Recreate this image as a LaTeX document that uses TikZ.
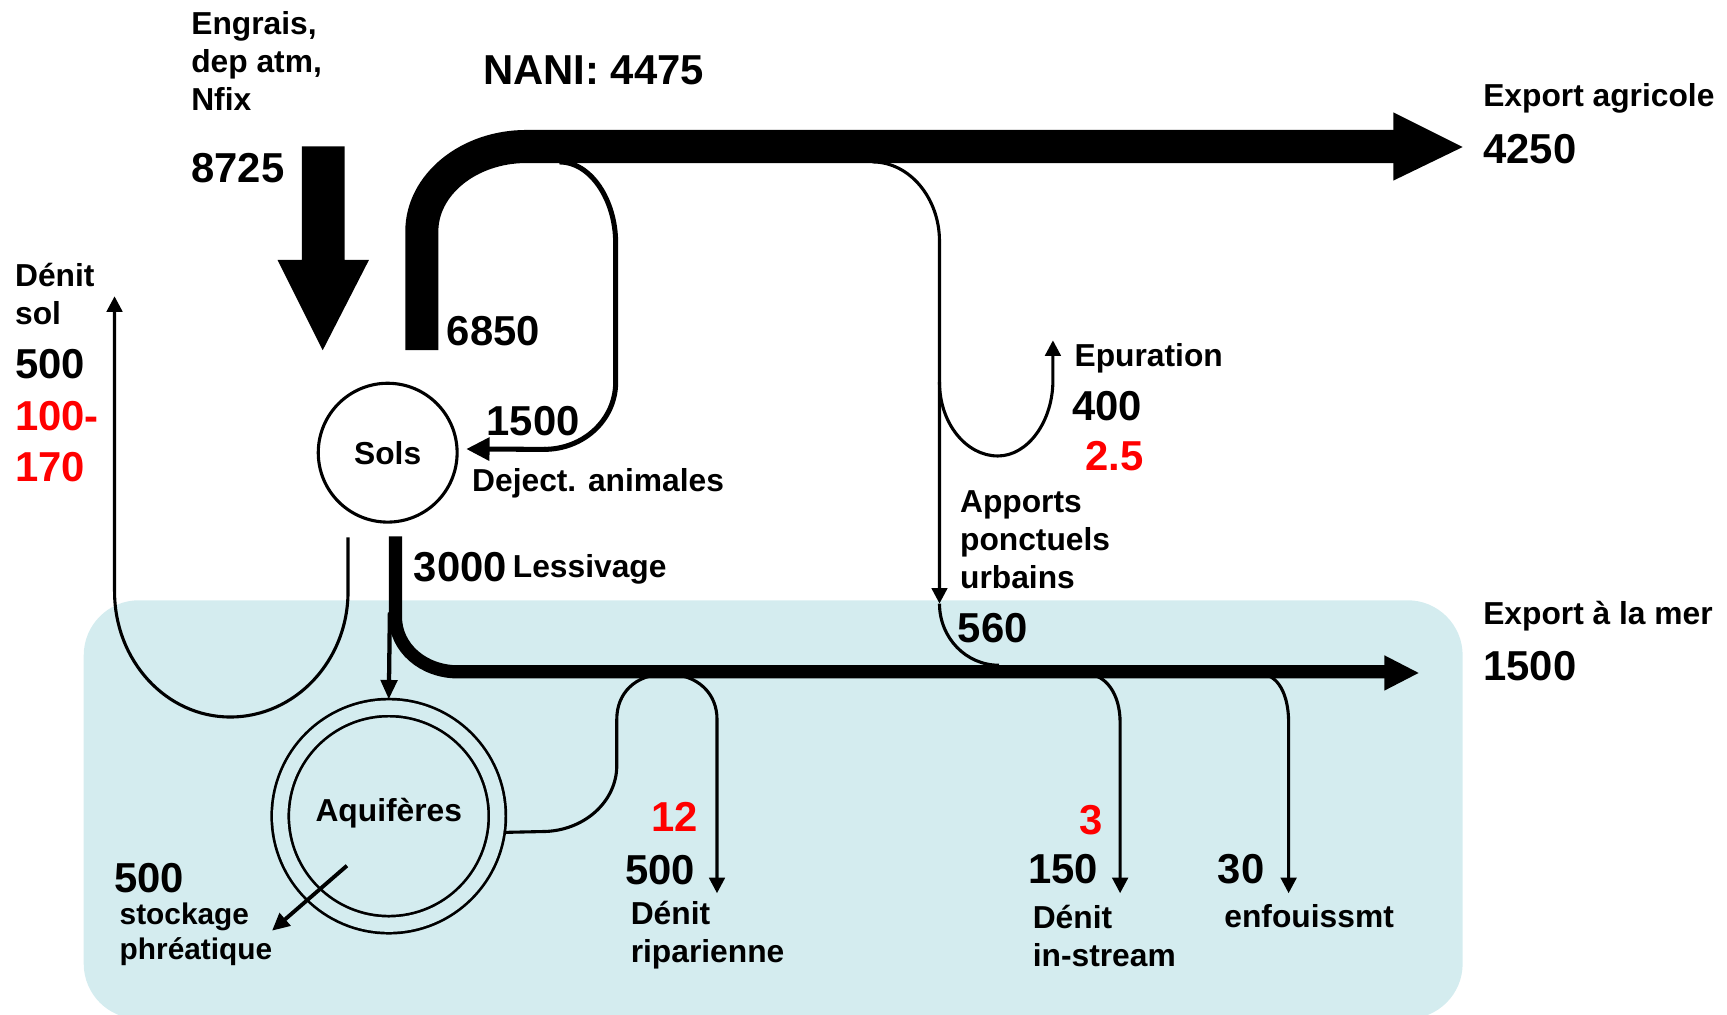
\documentclass[tikz,border=0pt]{standalone}
\usepackage{fontspec}
\setmainfont{Liberation Sans}
\usetikzlibrary{arrows.meta, positioning}
\definecolor{nappe}{RGB}{212,236,239}
\definecolor{flowred}{RGB}{255,0,0}
\newcommand{\lblfont}{\fontsize{8.2}{9.8}\selectfont\bfseries}
\newcommand{\numfont}{\fontsize{10.8}{13.2}\selectfont\bfseries}
\tikzset{
  lbl/.style={font=\lblfont, inner sep=0pt, anchor=west, align=left},
  num/.style={font=\numfont, inner sep=0pt, anchor=west, align=left},
  rednum/.style={num, text=flowred},
  pool/.style={draw, circle, line width=0.8pt, font=\lblfont, inner sep=0pt},
  fluxline/.style={line width=0.8pt, -{Triangle[length=4pt,width=4pt]}},
  fluxplain/.style={line width=0.8pt},
  bigflux/.style={line width=0.3cm, line cap=butt},
  midflux/.style={line width=0.12cm, line cap=butt},
}

\begin{document}
\begin{tikzpicture}[x=0.01cm, y=-0.01cm]
  \useasboundingbox (0,0) rectangle (1568,921);
  % zone souterraine / riviere
  \fill[nappe, rounded corners=0.5cm] (76,545) rectangle (1328,925);

  % reservoirs
  \node[pool, minimum size=1.26cm] (sols) at (352,411) {Sols};
  \node[pool, line width=0.7pt, double=nappe, double distance=0.13cm,
        outer sep=0.075cm, minimum size=1.97cm] (aquif) at (353,741) {};
  \node[font=\lblfont] (aquiflbl) at (353,738) {Aquifères};

  % points des flux
  \coordinate (agribot) at (383,318);
  \coordinate (agritop) at (383,210);
  \coordinate (agriend) at (1268,133);
  \coordinate (merend) at (1260,610);
  \coordinate (solsbot) at (359,487);
  \coordinate (denitsol) at (104,269);
  \coordinate (apportend) at (853,548);
  \coordinate (epurend) at (956,309);

  % apports d'engrais
  \fill (274,133) -- (313,133) -- (313,236) -- (335,236) -- (293,318)
        -- (252,236) -- (274,236) -- cycle;

  % deject. animales
  \draw[line width=1.3pt] (508,147) .. controls (536,147) and (559,181) .. (559,221)
        -- (559,347) .. controls (559,381) and (530,408) .. (494,408);
  \draw[line width=1.3pt, -{Triangle[length=6pt,width=5.8pt]}, shorten >=0.07cm]
        (496,408) -- (sols.3);

  % apports ponctuels urbains + epuration
  \draw[fluxline] (792,147) .. controls (826,147) and (853,180) .. (853,219) -- (apportend);
  \draw[fluxplain] (apportend) .. controls (853,579) and (877,604) .. (907,604);
  \draw[fluxline] (853,347) .. controls (853,384) and (877,414) .. (906,414)
        .. controls (933,414) and (956,383) .. (956,345) -- (epurend);

  % export agricole
  \draw[bigflux] (agribot) -- (agritop) .. controls (383,168) and (425,133) .. (478,133) -- (agriend);
  \fill (1265,102) -- (1328,133.5) -- (1265,164) -- cycle;

  % denit sol
  \draw[fluxline] (316,488) -- (316,537) .. controls (316,600) and (268,651) .. (209,651)
        .. controls (151,651) and (104,600) .. (104,537) -- (denitsol);

  % lessivage
  \draw[line width=1.1pt, -{Triangle[length=5pt,width=4.2pt]}] (354,556) -- (aquif.north);

  % denit riparienne
  \draw[fluxplain] (aquif.-8) -- (492,755) .. controls (530,755) and (560,728) .. (560,695)
        -- (560,653) .. controls (560,630) and (576,612) .. (605,612);
  \draw[fluxline] (605,612) .. controls (634,612) and (651,630) .. (651,653) -- (651,811);

  % denit in-stream, enfouissement
  \draw[fluxline] (986,612) .. controls (1004,612) and (1017,630) .. (1017,656) -- (1017,811);
  \draw[fluxline] (1144,612) .. controls (1160,612) and (1170,630) .. (1170,656) -- (1170,811);

  % stockage phreatique
  \draw[line width=1pt, -{Triangle[length=4.5pt,width=4.2pt]}] (315,786) -- (247,845);

  % export a la mer
  \draw[midflux] (solsbot) -- (359,560) .. controls (359,588) and (384,610) .. (416,610) -- (merend);
  \fill (1257,595) -- (1288,611) -- (1257,627) -- cycle;

  % textes
  \node[lbl] (engrais) at (173,55) {Engrais,\\dep atm,\\Nfix};
  \node[num] (v8725) at (173,153) {8725};
  \node[num] (nani) at (438,64) {NANI: 4475};
  \node[num] (v6850) at (405,301) {6850};
  \node[num] (v1500d) at (441,382) {1500};
  \node[lbl] (deject) at (428,439) {Deject. animales};
  \node[lbl] (denitsollbl) at (13,267) {Dénit\\sol};
  \node[num] (v500s) at (13,331) {500};
  \node[rednum] (v100) at (13,378) {100-};
  \node[rednum] (v170) at (13,424) {170};
  \node[lbl] (exagri) at (1346,89) {Export agricole};
  \node[num] (v4250) at (1346,135) {4250};
  \node[lbl] (epur) at (975,325) {Epuration};
  \node[num] (v400) at (973,369) {400};
  \node[rednum] (v25) at (985,414) {2.5};
  \node[lbl] (apports) at (871,490) {Apports\\ponctuels\\urbains};
  \node[num] (v560) at (869,570) {560};
  \node[num] (v3000) at (375,515) {3000};
  \node[lbl] (lessiv) at (465,517) {Lessivage};
  \node[lbl] (exmer) at (1346,559) {Export à la mer};
  \node[num] (v1500m) at (1346,605) {1500};
  \node[rednum] (v12) at (591,742) {12};
  \node[num] (v500r) at (567,790) {500};
  \node[lbl] (denitrip) at (572,849) {Dénit\\riparienne};
  \node[rednum] (v3) at (979,745) {3};
  \node[num] (v150) at (933,789) {150};
  \node[lbl] (denitin) at (937,850) {Dénit\\in-stream};
  \node[num] (v30) at (1105,789) {30};
  \node[lbl] (enfouis) at (1111,832) {enfouissmt};
  \node[num] (v500st) at (103,797) {500};
  \node[lbl, font=\fontsize{7.7}{9.1}\selectfont\bfseries] (stock) at (108,848) {stockage\\phréatique};
\end{tikzpicture}
\end{document}
